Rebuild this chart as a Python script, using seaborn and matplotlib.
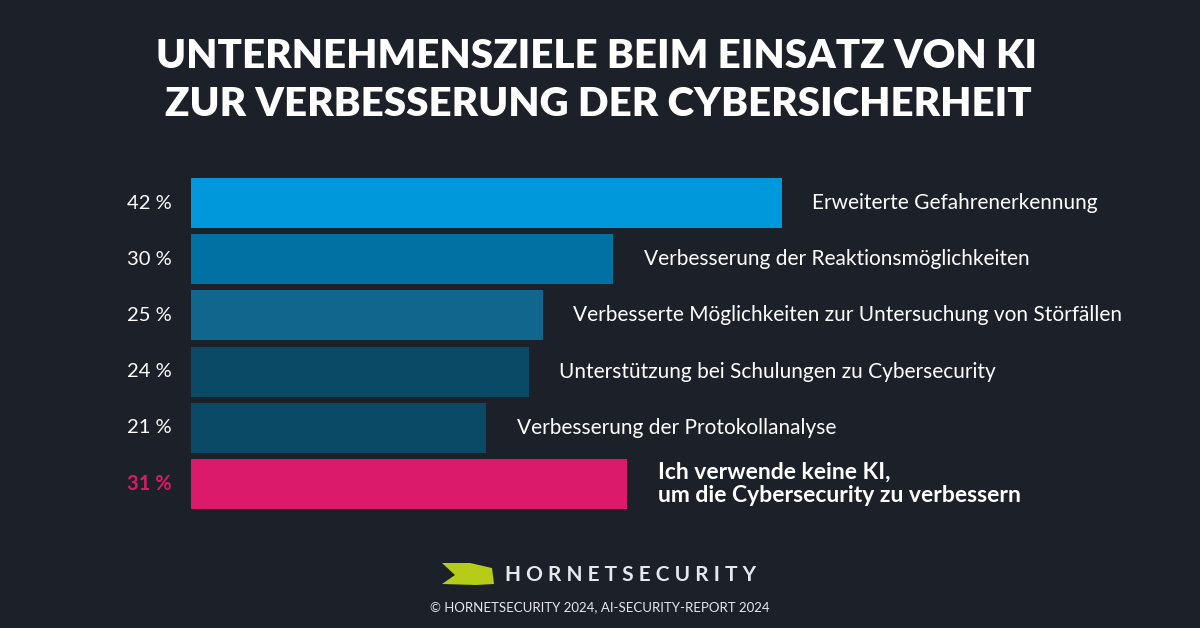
import matplotlib
matplotlib.use("Agg")
import matplotlib.pyplot as plt
import seaborn as sns
import pandas as pd
from matplotlib.patches import Polygon

# Data
goals = [
    "Erweiterte Gefahrenerkennung",
    "Verbesserung der Reaktionsmöglichkeiten",
    "Verbesserte Möglichkeiten zur Untersuchung von Störfällen",
    "Unterstützung bei Schulungen zu Cybersecurity",
    "Verbesserung der Protokollanalyse",
    "Ich verwende keine KI,\num die Cybersecurity zu verbessern",
]
shares = [42, 30, 25, 24, 21, 31]
bar_colors = ["#0097DB", "#0171A3", "#10668D", "#0B4A66", "#0B4A66", "#DC1A6B"]

BG = "#1C2029"

df = pd.DataFrame({"goal": goals, "share": shares})

sns.set_theme(style="white")
plt.rcParams["font.family"] = ["Lato", "DejaVu Sans"]

fig = plt.figure(figsize=(12, 6.28), dpi=100, facecolor=BG)

# axes placed so that 1 % = ~14.07 px, bars start at x=191
px_per_pct = 14.07
ax = fig.add_axes([191 / 1200, 1 - 512 / 628, 1000 / 1200, (512 - 175) / 628])
ax.set_facecolor(BG)

sns.barplot(data=df, x="share", y="goal", hue="goal", palette=bar_colors,
            saturation=1, legend=False, width=0.89, orient="h", ax=ax, linewidth=0)

ax.set_xlim(0, 1000 / px_per_pct)
ax.set_ylim(len(goals) - 0.5, -0.5)
ax.set_xticks([])
ax.set_yticks([])
ax.set_xlabel("")
ax.set_ylabel("")
for s in ax.spines.values():
    s.set_visible(False)

for i, (g, v) in enumerate(zip(goals, shares)):
    last = i == len(goals) - 1
    ax.annotate(g, xy=(v, i), xytext=(22, 0), textcoords="offset points",
                ha="left", va="center", color="white",
                fontsize=16.5 if last else 15,
                fontweight="bold" if last else "normal", linespacing=1.1)
    ax.annotate(f"{v} %", xy=(0, i), xytext=(-14, 0), textcoords="offset points",
                ha="right", va="center", fontsize=14.5,
                color="#D81B64" if last else "white",
                fontweight="bold" if last else "normal")

# title
fig.text(0.497, 1 - 57 / 628, "UNTERNEHMENSZIELE BEIM EINSATZ VON KI",
         ha="center", va="center", color="white", fontsize=29, fontweight="heavy")
fig.text(0.499, 1 - 105 / 628, "ZUR VERBESSERUNG DER CYBERSICHERHEIT",
         ha="center", va="center", color="white", fontsize=29, fontweight="heavy")

# logo
logo = [(442 / 1200, 1 - 563 / 628), (470 / 1200, 1 - 563 / 628),
        (492 / 1200, 1 - 568 / 628), (494 / 1200, 1 - 584 / 628),
        (476 / 1200, 1 - 585 / 628), (442 / 1200, 1 - 584 / 628),
        (455 / 1200, 1 - 575 / 628)]
fig.patches.append(Polygon(logo, closed=True, transform=fig.transFigure,
                           facecolor="#B5CC18", edgecolor="none"))
fig.text(505 / 1200, 1 - 575 / 628, "H O R N E T S E C U R I T Y",
         ha="left", va="center", color="#E6E8EC", fontsize=15, fontweight="bold")
fig.text(0.5, 1 - 607 / 628, "© HORNETSECURITY 2024, AI-SECURITY-REPORT 2024",
         ha="center", va="center", color="#E6E8EC", fontsize=9.5)

fig.savefig("out.png", dpi=100, facecolor=BG)
